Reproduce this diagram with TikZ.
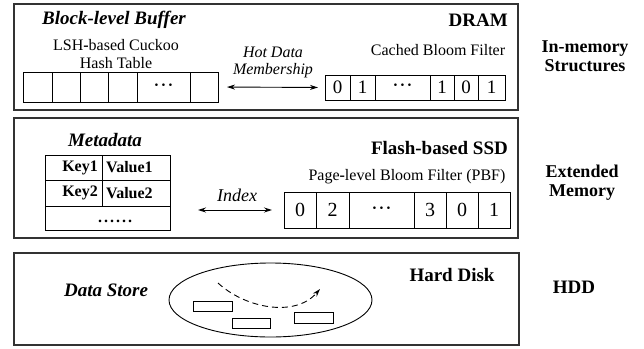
\documentclass[tikz,border=0pt]{standalone}
\usepackage{fontspec}
\setmainfont{Liberation Serif}
\usetikzlibrary{arrows.meta,shapes.geometric}

\tikzset{
  layer/.style={draw=black!80, line width=1.2pt, fill=none, inner sep=0pt, outer sep=0pt},
  cell/.style={draw=black, line width=0.9pt, inner sep=0pt, outer sep=0pt},
  digit/.style={cell, font=\fontsize{19}{19}\selectfont},
  bigdigit/.style={cell, font=\fontsize{20}{20}\selectfont},
  kv/.style={cell, font=\fontsize{16}{16}\selectfont\bfseries},
  kvtext/.style={inner sep=0pt, font=\fontsize{16}{16}\selectfont\bfseries},
  head/.style={inner sep=0pt, font=\fontsize{19}{19}\selectfont\bfseries},
  headit/.style={inner sep=0pt, font=\fontsize{19}{19}\selectfont\bfseries\itshape},
  side/.style={inner sep=0pt, align=center, font=\fontsize{18}{19}\selectfont\bfseries},
  plain/.style={inner sep=0pt, align=center, font=\fontsize{16}{18}\selectfont},
  ital/.style={inner sep=0pt, align=center, font=\fontsize{16}{17}\selectfont\itshape},
  link/.style={line width=0.9pt, {Stealth[length=8pt,width=5pt]}-{Stealth[length=8pt,width=5pt]}},
  sector/.style={draw=black, line width=0.8pt, inner sep=0pt, outer sep=0pt, minimum height=10.5pt},
}
\newcommand{\bhy}{{\bfseries -}}
% three bold centred dots for the elided cells
\newcommand{\celldots}{{\fontsize{16}{16}\selectfont\bfseries
  \textperiodcentered\kern1.6pt\textperiodcentered\kern1.6pt\textperiodcentered}}
% a spaced row of six bold full stops
\newcommand{\rowdots}{.\kern2pt.\kern2pt.\kern2pt.\kern2pt.\kern2pt.}

\begin{document}
\begin{tikzpicture}[x=1pt,y=-1pt]
\useasboundingbox (0,0) rectangle (644,348);

% ---- layer frames ----
\node[layer, minimum width=504, minimum height=106] (dram) at (266,57) {};
\node[layer, minimum width=504, minimum height=120] (ssd) at (266,178) {};
\node[layer, minimum width=505, minimum height=92] (hdd) at (266.5,299) {};

% ---- DRAM layer ----
\node[headit] (bufT) at (114,20) {Block-level Buffer};
\node[head, anchor=east] (dramT) at (508,20) {DRAM};
\node[plain] (lshT) at (116,54.5) {LSH\bhy based Cuckoo\\Hash Table};

\node[cell, minimum width=29, minimum height=30] (h1) at (37.5,87) {};
\node[cell, minimum width=28, minimum height=30] (h2) at (66,87) {};
\node[cell, minimum width=28, minimum height=30] (h3) at (94,87) {};
\node[cell, minimum width=29, minimum height=30] (h4) at (122.5,87) {};
\node[cell, minimum width=53, minimum height=30] (h5) at (163.5,87) {\celldots};
\node[cell, minimum width=28, minimum height=30] (h6) at (204,87) {};

\node[plain] (cbfT) at (438,50) {Cached Bloom Filter};
\node[digit, minimum width=25, minimum height=25] (c1) at (337.5,87.5) {0};
\node[digit, minimum width=25, minimum height=25] (c2) at (362.5,87.5) {1};
\node[digit, minimum width=55, minimum height=25] (c3) at (402.5,87.5) {\celldots};
\node[digit, minimum width=24, minimum height=25] (c4) at (442,87.5) {1};
\node[digit, minimum width=24, minimum height=25] (c5) at (466,87.5) {0};
\node[digit, minimum width=27, minimum height=25] (c6) at (491.5,87.5) {1};

\node[ital] (hotT) at (273,62) {Hot Data\\Membership};
\draw[link, shorten <=9pt, shorten >=7pt] (h6.east) -- (c1.west);

\node[side] (memT) at (585,56) {In-memory\\Structures};

% ---- SSD layer ----
\node[headit] (metaT) at (105,140) {Metadata};
\node[cell, minimum width=57, minimum height=25] (k1) at (73.5,167.5) {};
\node[cell, minimum width=68, minimum height=25] (v1) at (136,167.5) {};
\node[cell, minimum width=57, minimum height=26] (k2) at (73.5,193) {};
\node[cell, minimum width=68, minimum height=26] (v2) at (136,193) {};
\node[cell, minimum width=125, minimum height=24] (kvrest) at (107.5,218) {};
\node[kvtext, anchor=base] (dotsT) at (115,222) {\rowdots};
\node[kvtext, anchor=east] (k1T) at ([xshift=-4pt]k1.east) {Key1};
\node[kvtext, anchor=west] (v1T) at ([xshift=4pt]v1.west) {Value1};
\node[kvtext, anchor=east] (k2T) at ([xshift=-4pt]k2.east) {Key2};
\node[kvtext, anchor=west] (v2T) at ([xshift=4pt]v2.west) {Value2};

\node[head, anchor=east] (ssdT) at (508,148) {Flash-based SSD};
\node[plain] (pbfT) at (407,177) {Page\bhy level Bloom Filter (PBF)};
\node[bigdigit, minimum width=32, minimum height=36] (p1) at (300,210) {0};
\node[bigdigit, minimum width=33, minimum height=36] (p2) at (332.5,210) {2};
\node[bigdigit, minimum width=65, minimum height=36] (p3) at (381.5,210) {\celldots};
\node[bigdigit, minimum width=32, minimum height=36] (p4) at (430,210) {3};
\node[bigdigit, minimum width=32, minimum height=36] (p5) at (462,210) {0};
\node[bigdigit, minimum width=32, minimum height=36] (p6) at (494,210) {1};

\node[ital, font=\fontsize{18}{18}\selectfont\itshape] (idxT) at (237,195) {Index};
\draw[link, shorten <=28pt, shorten >=12pt] (v2.east |- p1.west) -- (p1.west);

\node[side] (extT) at (582,182.5) {Extended\\Memory};

% ---- HDD layer ----
\node[headit] (storeT) at (106,290) {Data Store};
\node[head] (diskT) at (452,275) {Hard Disk};
\node[side, font=\fontsize{19}{19}\selectfont\bfseries] (hddT) at (574,287) {HDD};

\node[draw=black, line width=0.9pt, ellipse, minimum width=203, minimum height=74, inner sep=0pt] (platter) at (270.5,300) {};
\node[sector, minimum width=39] (s1) at (212.5,306.5) {};
\node[sector, minimum width=38] (s2) at (251,323.5) {};
\node[sector, minimum width=39] (s3) at (313.5,318) {};

\coordinate (seekA) at (218,283);
\coordinate (seekB) at (320,289);
\draw[line width=0.9pt, dash pattern=on 6pt off 4pt, -{Stealth[length=8pt,width=5pt]}]
  (seekA) .. controls (245,308) and (295,318) .. (seekB);
\end{tikzpicture}
\end{document}
